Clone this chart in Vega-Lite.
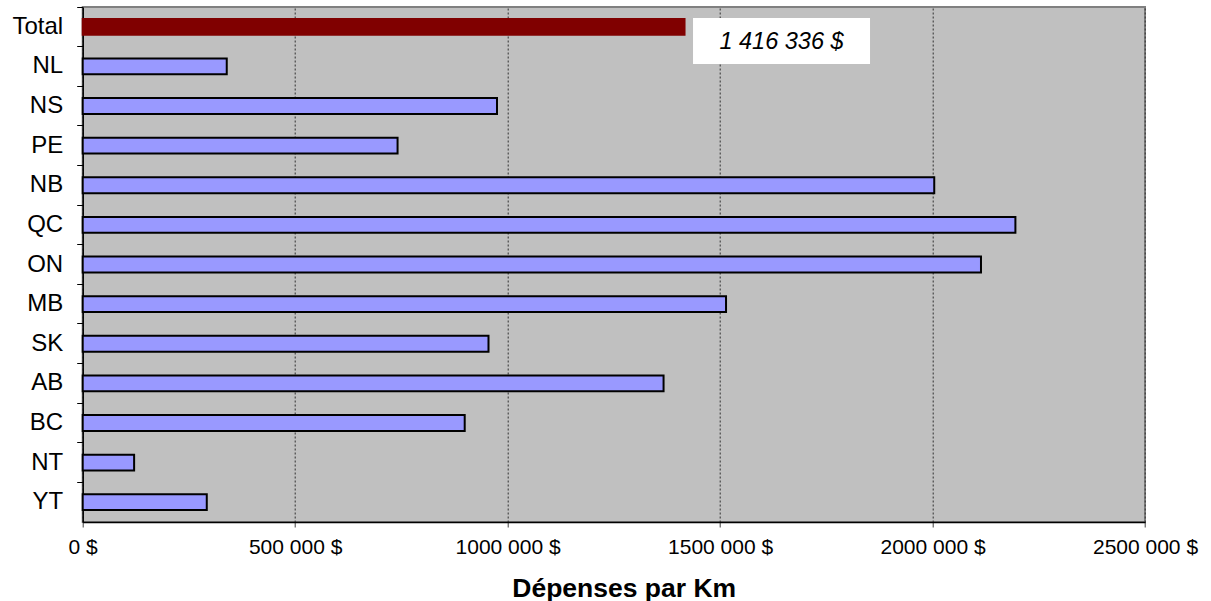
{
  "$schema": "https://vega.github.io/schema/vega-lite/v6.json",
  "autosize": "none",
  "width": 1062.3,
  "height": 515,
  "padding": {"left": 82.7, "top": 7, "right": 66, "bottom": 79},
  "background": "white",
  "config": {
    "font": "Liberation Sans",
    "view": {"fill": "#C0C0C0", "stroke": "#808080", "strokeWidth": 2}
  },
  "data": {
    "values": [
      {"cat": "Total", "value": 1416336},
      {"cat": "NL", "value": 339000},
      {"cat": "NS", "value": 975000},
      {"cat": "PE", "value": 741000},
      {"cat": "NB", "value": 2004000},
      {"cat": "QC", "value": 2195000},
      {"cat": "ON", "value": 2114000},
      {"cat": "MB", "value": 1514000},
      {"cat": "SK", "value": 955000},
      {"cat": "AB", "value": 1367000},
      {"cat": "BC", "value": 899000},
      {"cat": "NT", "value": 121000},
      {"cat": "YT", "value": 292000}
    ]
  },
  "encoding": {
    "y": {
      "field": "cat",
      "type": "nominal",
      "sort": null,
      "scale": {"paddingInner": 0, "paddingOuter": 0},
      "axis": {
        "title": null,
        "bandPosition": 0,
        "domainColor": "black",
        "domainWidth": 1.5,
        "tickColor": "black",
        "tickSize": 6,
        "labelFontSize": 24,
        "labelColor": "black",
        "labelPadding": 14,
        "grid": false
      }
    },
    "x": {
      "field": "value",
      "type": "quantitative",
      "scale": {"domain": [0, 2500000], "nice": false},
      "axis": {
        "values": [0, 500000, 1000000, 1500000, 2000000, 2500000],
        "labelExpr": "datum.value == 0 ? '0 $' : (datum.value / 1000) + ' 000 $'",
        "labelFlush": false,
        "title": "Dépenses par Km",
        "titleFontSize": 26.5,
        "titleFontWeight": "bold",
        "titleColor": "black",
        "titlePadding": 18,
        "titleX": 541,
        "labelFontSize": 21,
        "labelColor": "black",
        "labelPadding": 9,
        "tickSize": 5,
        "tickColor": "#404040",
        "domainColor": "black",
        "domainWidth": 1.5,
        "grid": true,
        "gridColor": "#303030",
        "gridDash": [2, 2],
        "gridWidth": 1
      }
    }
  },
  "layer": [
    {
      "mark": {"type": "bar", "height": {"band": 0.4}, "strokeWidth": 2},
      "encoding": {
        "fill": {
          "condition": {"test": "datum.cat == 'Total'", "value": "#800000"},
          "value": "#9999FF"
        },
        "stroke": {
          "condition": {"test": "datum.cat == 'Total'", "value": "#800000"},
          "value": "black"
        }
      }
    },
    {
      "transform": [{"filter": "datum.cat == 'Total'"}],
      "mark": {"type": "rect", "width": 177, "height": 46, "fill": "white"},
      "encoding": {
        "xOffset": {"value": 97},
        "yOffset": {"value": 34}
      }
    },
    {
      "transform": [{"filter": "datum.cat == 'Total'"}],
      "mark": {
        "type": "text",
        "dx": 97,
        "dy": 15,
        "align": "center",
        "baseline": "middle",
        "fontStyle": "italic",
        "fontSize": 23.5,
        "color": "black"
      },
      "encoding": {
        "text": {"value": "1 416 336 $"}
      }
    }
  ]
}
